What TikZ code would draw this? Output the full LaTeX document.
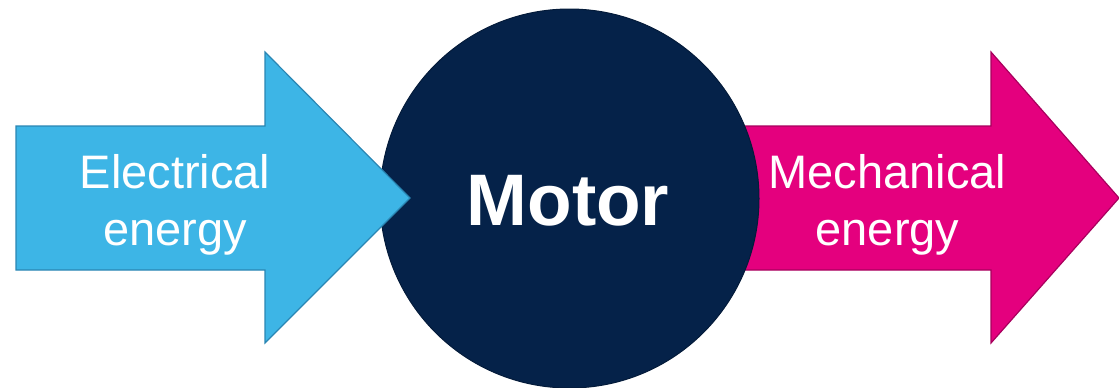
\documentclass[tikz,border=0pt]{standalone}
\usepackage{fontspec}
\setmainfont{Liberation Sans}
\definecolor{elecblue}{HTML}{3DB5E6}
\definecolor{elecedge}{HTML}{2A86B3}
\definecolor{mechpink}{HTML}{E4007E}
\definecolor{mechedge}{HTML}{A8005D}
\definecolor{motornavy}{HTML}{052249}
\begin{document}
\begin{tikzpicture}[x=0.5pt,y=-0.5pt,line join=miter]
  \tikzset{label/.style={text=white,align=center,font=\fontsize{23.5}{28.5}\selectfont}}
  \useasboundingbox (0,0) rectangle (1119,387);
  % output arrow, behind the motor
  \filldraw[fill=mechpink,draw=mechedge,line width=0.6pt] (720,126)--(991,126)--(991,52)--(1119,198)--(991,343)--(991,270)--(720,270)--cycle;
  \node[circle,fill=motornavy,draw=motornavy!80!black,line width=0.5pt,minimum size=189.5pt,inner sep=0pt] (motor) at (569.5,198.5) {};
  \node[text=white,font=\bfseries\fontsize{36.5}{40}\selectfont] (motorname) at (568,201) {Motor};
  % input arrow, over the motor
  \filldraw[fill=elecblue,draw=elecedge,line width=0.6pt] (16,126)--(265,126)--(265,52)--(410,198)--(265,343)--(265,270)--(16,270)--cycle;
  \node[label] (elec) at (175,204.5) {Electrical\\energy};
  \node[label] (mech) at (887.5,204.5) {Mechanical\\energy};
\end{tikzpicture}
\end{document}
